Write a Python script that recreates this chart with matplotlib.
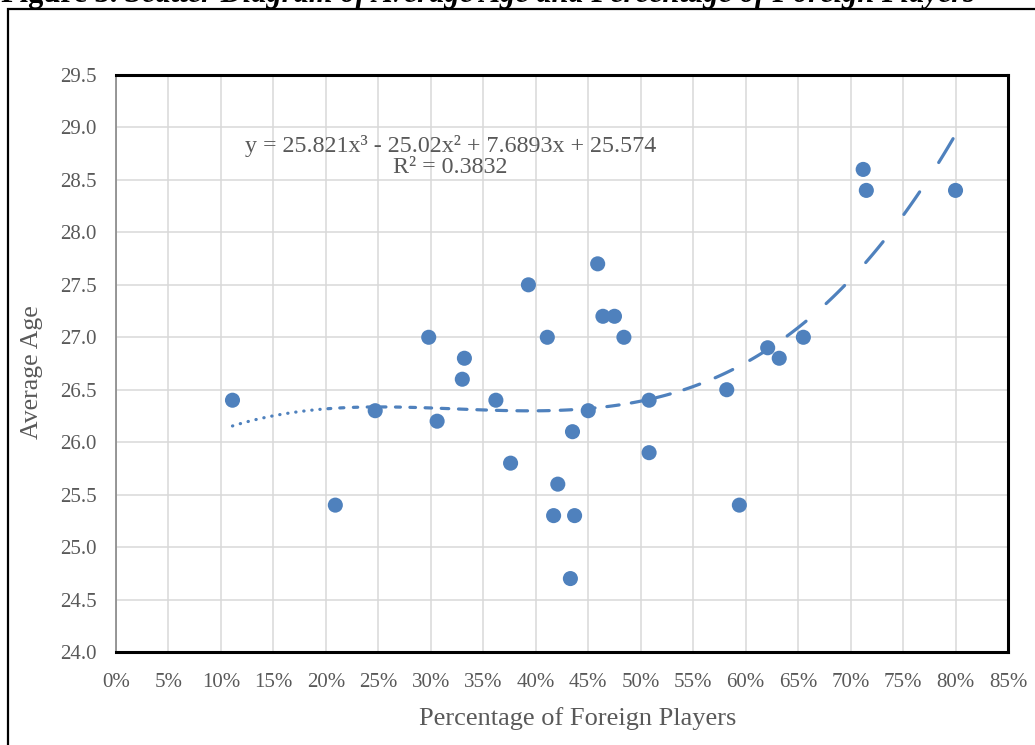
import numpy as np
import matplotlib
matplotlib.use("Agg")
import matplotlib.pyplot as plt
from matplotlib.ticker import FuncFormatter, MultipleLocator
from matplotlib.patches import Rectangle

# ---- data ----
foreign_pct = [11.1, 20.9, 24.7, 29.8, 30.6, 33.0, 33.2, 36.2, 37.6, 39.3,
               41.1, 41.7, 42.1, 43.3, 43.5, 43.7, 45.0, 45.9, 46.4, 47.5,
               48.4, 50.8, 50.8, 58.2, 59.4, 62.1, 63.2, 65.5, 71.2, 71.5,
               80.0]
avg_age = [26.4, 25.4, 26.3, 27.0, 26.2, 26.6, 26.8, 26.4, 25.8, 27.5,
           27.0, 25.3, 25.6, 24.7, 26.1, 25.3, 26.3, 27.7, 27.2, 27.2,
           27.0, 26.4, 25.9, 26.5, 25.4, 26.9, 26.8, 27.0, 28.6, 28.4,
           28.4]
# trendline coefficients shown on the chart (cubic, x as a fraction)
trend_coef = [25.821, -25.02, 7.6893, 25.574]
equation_text = "y = 25.821x\u00b3 - 25.02x\u00b2 + 7.6893x + 25.574\nR\u00b2 = 0.3832"
title_lead = "Figure 3. "
title_rest = "Scatter Diagram of Average Age and Percentage of Foreign Players"
x_label = "Percentage of Foreign Players"
y_label = "Average Age"

BLUE = "#4F81BD"
GRAY_TXT = "#595959"
SERIF = ["Liberation Serif", "DejaVu Serif"]

W, H, DPI = 1035, 745, 100
fig = plt.figure(figsize=(W / DPI, H / DPI), dpi=DPI)
fig.patch.set_facecolor("white")

# outer frame of the figure (extends past right/bottom edges)
fig.patches.append(Rectangle((8 / W, -0.05), 1.1, 1 - 9 / H + 0.05,
                             transform=fig.transFigure, fill=False,
                             edgecolor="black", linewidth=1.6))

ax = fig.add_axes([116 / W, 1 - 652 / H, (1008 - 116) / W, (652 - 75) / H])
ax.set_xlim(0, 0.85)
ax.set_ylim(24.0, 29.5)
ax.xaxis.set_major_locator(MultipleLocator(0.05))
ax.yaxis.set_major_locator(MultipleLocator(0.5))
ax.xaxis.set_major_formatter(FuncFormatter(lambda v, p: f"{v*100:.0f}%"))
ax.yaxis.set_major_formatter(FuncFormatter(lambda v, p: f"{v:.1f}"))
ax.grid(True, color="#D9D9D9", linewidth=1.1, zorder=0)
ax.set_axisbelow(True)
ax.tick_params(length=0, labelsize=15, labelcolor=GRAY_TXT)
ax.tick_params(axis="x", pad=15)
ax.tick_params(axis="y", pad=14)
for lab in ax.get_xticklabels() + ax.get_yticklabels():
    lab.set_family(SERIF)
for side in ("top", "right", "bottom"):
    ax.spines[side].set_color("black")
    ax.spines[side].set_linewidth(2.2)
ax.spines["left"].set_color("#868686")
ax.spines["left"].set_linewidth(1.2)

ax.set_xlabel(x_label, fontsize=19, family=SERIF, color=GRAY_TXT, va="center")
ax.xaxis.set_label_coords((578 - 116) / 892, -(719 - 652) / 577)
ax.set_ylabel(y_label, fontsize=18.5, family=SERIF, color=GRAY_TXT, va="center")
ax.yaxis.set_label_coords((32 - 116) / 892, (652 - 372) / 577)

# cut-off caption at the very top (as in the reference)
t_rest = fig.text(975 / W, 1 - 2 / H, title_rest, ha="right", va="baseline",
                  fontsize=22, fontstyle="italic", fontweight="bold",
                  family=SERIF, color="black")
fig.canvas.draw()
bb = t_rest.get_window_extent()
fig.text(bb.x0 / W, 1 - 2 / H, title_lead, ha="right", va="baseline",
         fontsize=22, fontweight="bold", family=SERIF, color="black")

# ---- trendline with a dash pattern that lengthens along the curve ----
xf = np.array(foreign_pct) / 100.0
xc = np.linspace(xf.min(), xf.max(), 3000)
yc = np.polyval(trend_coef, xc)
pts = ax.transData.transform(np.column_stack([xc, yc]))
s = np.concatenate([[0], np.cumsum(np.hypot(np.diff(pts[:, 0]), np.diff(pts[:, 1])))])
sched_x = [0.11, 0.195, 0.205, 0.27, 0.35, 0.50, 0.60, 0.70, 0.80]
sched_on = [0.3, 0.3, 4.0, 5.0, 10.0, 13.0, 22.0, 27.0, 28.0]
sched_off = [7.8, 7.8, 9.5, 9.5, 10.0, 13.0, 22.0, 34.0, 36.0]
pos = 0.0
while pos < s[-1]:
    xcur = np.interp(pos, s, xc)
    on = np.interp(xcur, sched_x, sched_on)
    off = np.interp(xcur, sched_x, sched_off)
    end = min(pos + on, s[-1])
    ss = np.linspace(pos, end, 30)
    xd = np.interp(ss, s, xc)
    ax.plot(xd, np.polyval(trend_coef, xd), color=BLUE, linewidth=2.3,
            solid_capstyle="round", zorder=3)
    pos = end + off

ax.scatter(xf, avg_age, s=118, color=BLUE, edgecolors="none", zorder=4)

ax.text((450.7 - 116) / 892, (652 - 156.5) / 577, equation_text,
        transform=ax.transAxes, ha="center", va="center", multialignment="center",
        fontsize=17.3, family=SERIF, color=GRAY_TXT, linespacing=1.05, zorder=5)

fig.savefig("out.png", dpi=DPI, facecolor="white")
